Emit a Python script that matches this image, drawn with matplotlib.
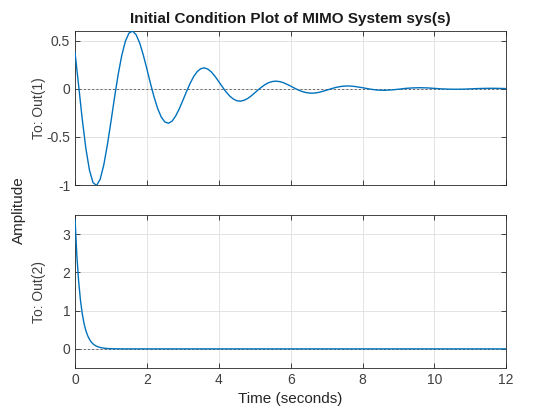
import matplotlib
matplotlib.use("Agg")
import matplotlib.pyplot as plt

plt.rcParams['font.family'] = ['Liberation Sans', 'DejaVu Sans']

# ---- data ----
t_out1 = [0.0, 0.1, 0.2, 0.3, 0.4, 0.5, 0.6, 0.7, 0.8, 0.9,
          1.0, 1.1, 1.2, 1.3, 1.4, 1.5, 1.6, 1.7, 1.8, 1.9,
          2.0, 2.1, 2.2, 2.3, 2.4, 2.5, 2.6, 2.7, 2.8, 2.9,
          3.0, 3.1, 3.2, 3.3, 3.4, 3.5, 3.6, 3.7, 3.8, 3.9,
          4.0, 4.1, 4.2, 4.3, 4.4, 4.5, 4.6, 4.7, 4.8, 4.9,
          5.0, 5.1, 5.2, 5.3, 5.4, 5.5, 5.6, 5.7, 5.8, 5.9,
          6.0, 6.1, 6.2, 6.3, 6.4, 6.5, 6.6, 6.7, 6.8, 6.9,
          7.0, 7.1, 7.2, 7.3, 7.4, 7.5, 7.6, 7.7, 7.8, 7.9,
          8.0, 8.2, 8.4, 8.6, 8.8, 9.0, 9.2, 9.4, 9.6, 9.8,
          10.0, 10.2, 10.4, 10.6, 10.8, 11.0, 11.2, 11.4, 11.6, 11.8, 12.0]
y_out1 = [0.374, 0.031, -0.315, -0.617, -0.844, -0.975, -1.005, -0.939, -0.791, -0.583,
          -0.340, -0.089, 0.147, 0.345, 0.491, 0.576, 0.598, 0.560, 0.473, 0.349,
          0.204, 0.053, -0.088, -0.207, -0.295, -0.346, -0.359, -0.337, -0.284, -0.210,
          -0.122, -0.032, 0.053, 0.125, 0.177, 0.208, 0.216, 0.202, 0.171, 0.126,
          0.073, 0.019, -0.032, -0.075, -0.106, -0.125, -0.130, -0.121, -0.103, -0.076,
          -0.044, -0.011, 0.019, 0.045, 0.064, 0.075, 0.078, 0.073, 0.062, 0.045,
          0.027, 0.007, -0.012, -0.027, -0.038, -0.045, -0.047, -0.044, -0.037, -0.027,
          -0.016, -0.004, 0.007, 0.016, 0.023, 0.027, 0.028, 0.026, 0.022, 0.016,
          0.010, -0.004, -0.014, -0.017, -0.013, -0.006, 0.003, 0.008, 0.010, 0.008,
          0.003, -0.002, -0.005, -0.006, -0.005, -0.002, 0.001, 0.003, 0.004, 0.003, 0.001]

t_out2 = [0.0, 0.05, 0.1, 0.15, 0.2, 0.25, 0.3, 0.35, 0.4, 0.45, 0.5,
          0.55, 0.6, 0.65, 0.7, 0.8, 0.9, 1.0, 1.2, 1.5, 12.0]
y_out2 = [3.39, 2.449, 1.770, 1.279, 0.924, 0.667, 0.482, 0.348, 0.252, 0.182, 0.131,
          0.095, 0.069, 0.050, 0.036, 0.019, 0.010, 0.005, 0.001, 0.0, 0.0]

xticks = [0, 2, 4, 6, 8, 10, 12]
yticks1 = [-1, -0.5, 0, 0.5]
yticks2 = [0, 1, 2, 3]

LINE = "#0072BD"
AXC = "#262626"

fig = plt.figure(figsize=(5.6, 4.2), dpi=100)
ax1 = fig.add_axes([0.134, 0.5595, 0.770, 0.367])
ax2 = fig.add_axes([0.134, 0.1238, 0.770, 0.3642])

for ax in (ax1, ax2):
    ax.set_xlim(0, 12)
    ax.set_xticks(xticks)
    ax.grid(True, color="#dedede", lw=0.6)
    ax.set_axisbelow(True)
    ax.axhline(0, color="#555555", lw=0.6, ls=(0, (2.5, 2.5)), zorder=1.5)
    ax.tick_params(direction="in", top=True, right=True, length=3.5, width=0.6,
                   colors=AXC, labelsize=10, labelcolor="#404040")
    for sp in ax.spines.values():
        sp.set_color(AXC); sp.set_linewidth(0.6)

ax1.plot(t_out1, y_out1, color=LINE, lw=1.0, zorder=3)
ax1.set_ylim(-1, 0.6)
ax1.set_yticks(yticks1)
ax1.set_yticklabels(["-1", "-0.5", "0", "0.5"])
ax1.tick_params(labelbottom=False)
ax1.set_title("Initial Condition Plot of MIMO System sys(s)", fontsize=11,
              fontweight="bold", color="#1a1a1a", pad=6)
ax1.set_ylabel("To: Out(1)", fontsize=10, color="#404040")
ax1.yaxis.set_label_coords(-0.068, 0.5)

ax2.plot(t_out2, y_out2, color=LINE, lw=1.0, zorder=3)
ax2.set_ylim(-0.5, 3.5)
ax2.set_yticks(yticks2)
ax2.set_ylabel("To: Out(2)", fontsize=10, color="#404040")
ax2.yaxis.set_label_coords(-0.068, 0.5)
ax2.set_xlabel("Time (seconds)", fontsize=11, color=AXC, labelpad=4)

fig.text(0.034, 0.5, "Amplitude", rotation=90, ha="center", va="center",
         fontsize=11, color=AXC)

fig.savefig("out.png", dpi=100)
